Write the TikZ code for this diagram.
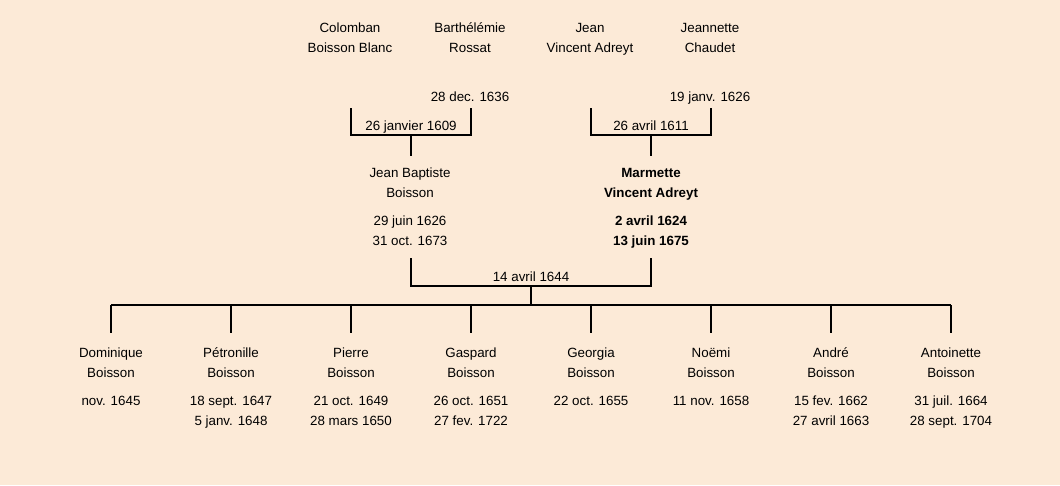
\documentclass[tikz,border=0pt]{standalone}
\usepackage{fontspec}
\setmainfont{Liberation Sans}
\usepackage{xcolor}
\usetikzlibrary{positioning, calc}
\definecolor{paper}{HTML}{FCEAD7}

\begin{document}
\begin{tikzpicture}[
    x=0.02cm, y=-0.02cm,
    font=\fontsize{7.6}{11.3}\selectfont,
    person/.style={align=center, inner sep=0pt, anchor=base},
    dates/.style={align=center, inner sep=0pt, anchor=north},
    link/.style={line width=1.2pt},
    wedding/.style={anchor=base, inner sep=0pt, yshift=0.1cm}
]
    \fill[paper] (0,0) rectangle (1060,485);
    \useasboundingbox (0,0) rectangle (1060,485);

    % grand-parents
    \node[person] (colomban) at (350,52) {Colomban\\Boisson Blanc};
    \node[person] (barthelemie) at (470,52) {Barthélémie\\Rossat};
    \node[person] (jean) at (590,52) {Jean\\Vincent Adreyt};
    \node[person] (jeannette) at (710,52) {Jeannette\\Chaudet};
    \node[dates] (barthelemie-d) at (470,91.5) {28 dec. 1636};
    \node[dates] (jeannette-d) at (710,91.5) {19 janv. 1626};

    \coordinate (m1l) at (351,108);
    \coordinate (m1r) at (471,108);
    \coordinate (m1) at (411,135);
    \coordinate (m2l) at (591,108);
    \coordinate (m2r) at (711,108);
    \coordinate (m2) at (651,135);

    \draw[link] (m1l) |- (m1) -| (m1r);
    \draw[link] (m2l) |- (m2) -| (m2r);
    \node[wedding] (wed1) at (m1) {26 janvier 1609};
    \node[wedding] (wed2) at (m2) {26 avril 1611};
    \draw[link] (m1) -- ++(0,21);
    \draw[link] (m2) -- ++(0,21);

    % parents
    \node[person] (jeanbaptiste) at (410,197) {Jean Baptiste\\Boisson};
    \node[dates] (jeanbaptiste-d) at (410,215.5) {29 juin 1626\\31 oct. 1673};
    \node[person, font=\fontsize{7.6}{11.3}\selectfont\bfseries] (marmette) at (651,197) {Marmette\\Vincent Adreyt};
    \node[dates, font=\fontsize{7.6}{11.3}\selectfont\bfseries] (marmette-d) at (651,215.5) {2 avril 1624\\13 juin 1675};

    \coordinate (m3l) at (411,258);
    \coordinate (m3r) at (651,258);
    \coordinate (m3) at (531,286);
    \draw[link] (m3l) |- (m3) -| (m3r);
    \node[wedding] (wed3) at (m3) {14 avril 1644};
    \draw[link] (m3) -- ++(0,19) coordinate (kids);
    \draw[link] (111,305) -- (951,305);

    % children
    \foreach \x/\kid/\life [count=\i] in {
        111/Dominique/{nov. 1645},
        231/Pétronille/{18 sept. 1647\\5 janv. 1648},
        351/Pierre/{21 oct. 1649\\28 mars 1650},
        471/Gaspard/{26 oct. 1651\\27 fev. 1722},
        591/Georgia/{22 oct. 1655},
        711/Noëmi/{11 nov. 1658},
        831/André/{15 fev. 1662\\27 avril 1663},
        951/Antoinette/{31 juil. 1664\\28 sept. 1704}}{
        \node[person] (kid\i) at (\x,377) {\kid\\Boisson};
        \node[dates] (kid\i-d) at (\x,395.5) {\life};
        \draw[link] (\x,305) -- (\x,333);
    }
\end{tikzpicture}
\end{document}
